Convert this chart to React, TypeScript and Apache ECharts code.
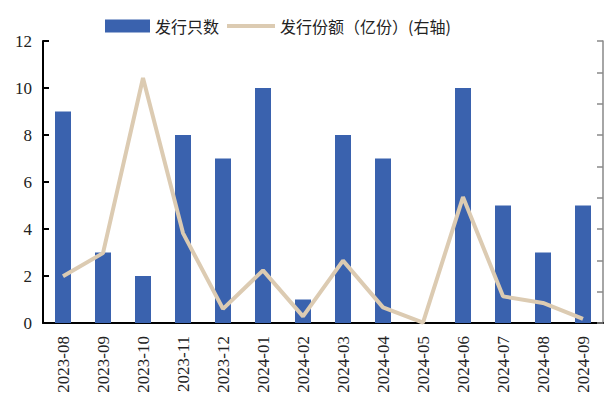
import React, { useEffect, useRef } from "react";
import * as echarts from "echarts";

const categories = ["2023-08", "2023-09", "2023-10", "2023-11", "2023-12", "2024-01", "2024-02", "2024-03", "2024-04", "2024-05", "2024-06", "2024-07", "2024-08", "2024-09"];
const issueCount = [9, 3, 2, 8, 7, 10, 1, 8, 7, 0, 10, 5, 3, 5];
const issueShares = [1.49, 2.23, 7.82, 2.87, 0.45, 1.68, 0.21, 1.99, 0.5, 0.01, 4.02, 0.85, 0.64, 0.13];
const leftTicks = { min: 0, max: 12, interval: 2 };
const rightTicks = { min: 0, max: 9, interval: 1 };

export default function App() {
  const ref = useRef<HTMLDivElement>(null);
  useEffect(() => {
    if (!ref.current) return;
    const chart = echarts.init(ref.current, null, { renderer: "svg" });
    const serif = "Liberation Serif";
    const legendText = { fontFamily: "Noto Sans CJK SC", fontSize: 16, color: "#222" };
    chart.setOption({
      animation: false,
      legend: [
        {
          left: 100,
          top: 13,
          itemWidth: 45,
          itemHeight: 13,
          textStyle: legendText,
          data: [{ name: "发行只数", icon: "rect" }],
        },
        {
          left: 222,
          top: 13,
          itemWidth: 48,
          itemHeight: 4,
          textStyle: legendText,
          data: [{ name: "发行份额（亿份）(右轴)", icon: "rect" }],
        },
      ],
      grid: { left: 43, right: 7, top: 41, bottom: 80, containLabel: false },
      xAxis: {
        type: "category",
        data: categories,
        boundaryGap: true,
        axisLine: { lineStyle: { color: "#000", width: 2 } },
        axisTick: { inside: true, length: 6, alignWithLabel: false, lineStyle: { color: "#000", width: 2 } },
        axisLabel: { rotate: 90, margin: 13, fontFamily: serif, fontSize: 17, color: "#222", interval: 0 },
      },
      yAxis: [
        {
          type: "value",
          ...leftTicks,
          axisLine: { show: true, lineStyle: { color: "#000", width: 2 } },
          axisTick: { show: true, inside: true, length: 6, lineStyle: { color: "#000", width: 2 } },
          axisLabel: { margin: 11, fontFamily: serif, fontSize: 17, color: "#222" },
          splitLine: { show: false },
        },
        {
          type: "value",
          ...rightTicks,
          position: "right",
          axisLine: { show: true, lineStyle: { color: "#888", width: 1.5 } },
          axisTick: { show: true, inside: true, length: 6, lineStyle: { color: "#888", width: 1.5 } },
          axisLabel: { show: false },
          splitLine: { show: false },
        },
      ],
      series: [
        {
          name: "发行只数",
          type: "bar",
          data: issueCount,
          barWidth: "40%",
          itemStyle: { color: "#3a62ae" },
          yAxisIndex: 0,
        },
        {
          name: "发行份额（亿份）(右轴)",
          type: "line",
          data: issueShares,
          yAxisIndex: 1,
          symbol: "none",
          lineStyle: { color: "#dccbb2", width: 4 },
          itemStyle: { color: "#dccbb2" },
        },
      ],
    });
    return () => chart.dispose();
  }, []);
  return <div ref={ref} style={{ position: "absolute", left: 0, top: 0, width: 610, height: 403 }} />;
}
